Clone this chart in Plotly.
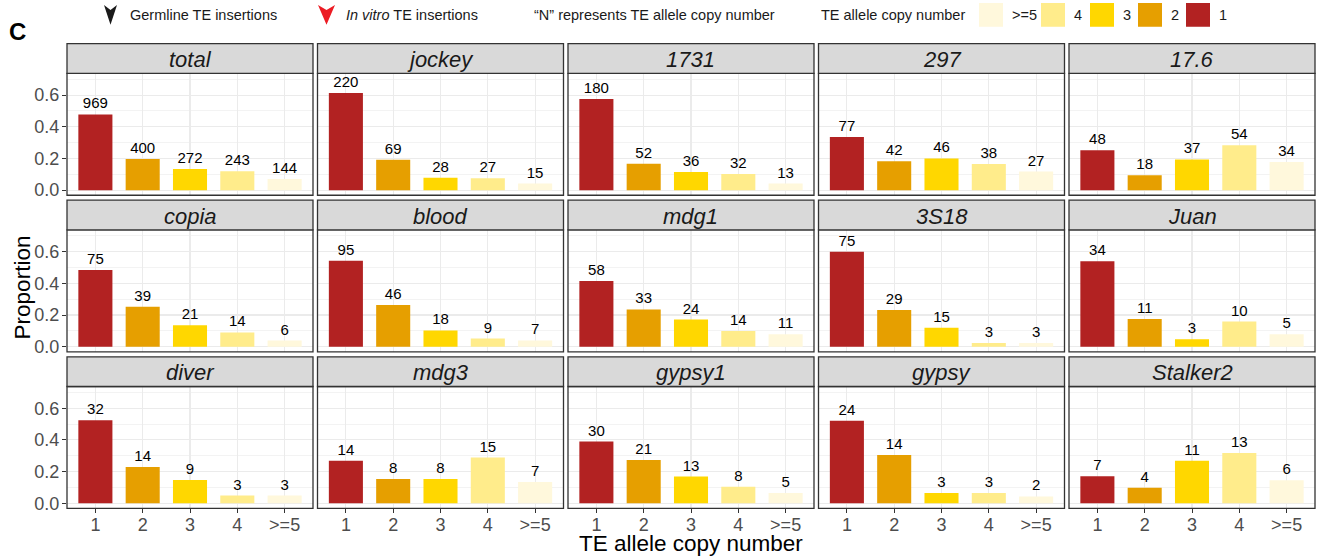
import plotly.graph_objects as go

# ---------------- data ----------------
categories = ["1", "2", "3", "4", ">=5"]
colors = ["#B22222", "#E69F00", "#FFD700", "#FFEC8B", "#FFF8DC"]

families = ["total", "jockey", "1731", "297", "17.6",
            "copia", "blood", "mdg1", "3S18", "Juan",
            "diver", "mdg3", "gypsy1", "gypsy", "Stalker2"]

counts_total = [969, 400, 272, 243, 144]
counts_jockey = [220, 69, 28, 27, 15]
counts_1731 = [180, 52, 36, 32, 13]
counts_297 = [77, 42, 46, 38, 27]
counts_17_6 = [48, 18, 37, 54, 34]
counts_copia = [75, 39, 21, 14, 6]
counts_blood = [95, 46, 18, 9, 7]
counts_mdg1 = [58, 33, 24, 14, 11]
counts_3S18 = [75, 29, 15, 3, 3]
counts_Juan = [34, 11, 3, 10, 5]
counts_diver = [32, 14, 9, 3, 3]
counts_mdg3 = [14, 8, 8, 15, 7]
counts_gypsy1 = [30, 21, 13, 8, 5]
counts_gypsy = [24, 14, 3, 3, 2]
counts_Stalker2 = [7, 4, 11, 13, 6]

all_counts = [counts_total, counts_jockey, counts_1731, counts_297, counts_17_6,
              counts_copia, counts_blood, counts_mdg1, counts_3S18, counts_Juan,
              counts_diver, counts_mdg3, counts_gypsy1, counts_gypsy, counts_Stalker2]

y_ticks = [0.0, 0.2, 0.4, 0.6]
y_tick_labels = ["0.0", "0.2", "0.4", "0.6"]

# ---------------- layout helpers ----------------
W, H = 1324, 559
FONT = "Liberation Sans, Arial, Helvetica, sans-serif"


def fx(x):
    return x / W


def fy(y):
    return 1 - y / H


col_left = [67 + i * 250.5 for i in range(5)]
panel_w = 246
strip_top = [44, 202, 360]
strip_h = 30
plot_h = 123

fig = go.Figure()
layout = dict(
    width=W, height=H, margin=dict(l=0, r=0, t=0, b=0),
    paper_bgcolor="white", plot_bgcolor="white", showlegend=False,
    font=dict(family=FONT), bargap=0.3,
)
shapes = []
annotations = []

for k, (fam, cnts) in enumerate(zip(families, all_counts)):
    r, c = divmod(k, 5)
    n = sum(cnts)
    props = [v / n for v in cnts]
    xa = "x" if k == 0 else f"x{k+1}"
    ya = "y" if k == 0 else f"y{k+1}"
    fig.add_trace(go.Bar(
        x=categories, y=props, xaxis=xa, yaxis=ya,
        marker=dict(color=colors, line=dict(width=0)),
        width=0.72,
        text=[str(v) for v in cnts], textposition="outside",
        textfont=dict(size=15, color="black", family=FONT),
        constraintext="none", cliponaxis=False, hoverinfo="skip",
    ))
    x0 = fx(col_left[c])
    x1 = fx(col_left[c] + panel_w)
    pt = strip_top[r] + strip_h
    pb = pt + plot_h
    xkey = "xaxis" if k == 0 else f"xaxis{k+1}"
    ykey = "yaxis" if k == 0 else f"yaxis{k+1}"
    bottom = (r == 2)
    left = (c == 0)
    layout[xkey] = dict(
        domain=[x0, x1], anchor=ya, type="category",
        categoryorder="array", categoryarray=categories,
        range=[-0.6, 4.6], showgrid=True, gridcolor="#EBEBEB", gridwidth=1.1,
        showline=False, zeroline=False,
        ticks="outside" if bottom else "", ticklen=4, tickcolor="#333333", tickwidth=1,
        showticklabels=bottom, ticklabelstandoff=-4,
        tickfont=dict(size=18, color="#4D4D4D", family=FONT),
        fixedrange=True,
    )
    layout[ykey] = dict(
        domain=[fy(pb), fy(pt)], anchor=xa,
        range=[-0.032, 0.737], showgrid=True, gridcolor="#EBEBEB", gridwidth=1.1,
        tickvals=y_ticks, ticktext=y_tick_labels,
        minor=dict(tickvals=[0.1, 0.3, 0.5, 0.7], showgrid=True,
                   gridcolor="#EBEBEB", gridwidth=0.6, ticks=""),
        showline=False, zeroline=False,
        ticks="outside" if left else "", ticklen=4, tickcolor="#333333", tickwidth=1,
        showticklabels=left, ticklabelstandoff=-1,
        tickfont=dict(size=18, color="#4D4D4D", family=FONT),
        fixedrange=True,
    )
    # panel border
    shapes.append(dict(type="rect", xref="paper", yref="paper",
                       x0=x0, x1=x1, y0=fy(pb), y1=fy(pt),
                       line=dict(color="#333333", width=1.3), fillcolor="rgba(0,0,0,0)",
                       layer="above"))
    # strip
    shapes.append(dict(type="rect", xref="paper", yref="paper",
                       x0=x0, x1=x1, y0=fy(pt), y1=fy(strip_top[r]),
                       line=dict(color="#333333", width=1.3), fillcolor="#D9D9D9",
                       layer="above"))
    annotations.append(dict(xref="paper", yref="paper", x=(x0 + x1) / 2,
                            y=fy(strip_top[r] + strip_h / 2 + 1),
                            text=f"<i>{fam}</i>", showarrow=False,
                            xanchor="center", yanchor="middle",
                            font=dict(size=22, color="#1A1A1A", family=FONT)))

# axis titles
annotations.append(dict(xref="paper", yref="paper", x=fx(691), y=fy(548),
                        text="TE allele copy number", showarrow=False,
                        xanchor="center", yanchor="middle",
                        font=dict(size=22.5, color="black", family=FONT)))
annotations.append(dict(xref="paper", yref="paper", x=fx(22), y=fy(290),
                        text="Proportion", showarrow=False, textangle=-90,
                        xanchor="center", yanchor="middle",
                        font=dict(size=22.5, color="black", family=FONT)))
# panel tag
annotations.append(dict(xref="paper", yref="paper", x=fx(7), y=fy(32),
                        text="<b>C</b>", showarrow=False,
                        xanchor="left", yanchor="middle",
                        font=dict(size=24, color="black", family=FONT)))


# top legend: arrowheads
def arrow_path(xl, xr, yt, yb, notch):
    xm = (xl + xr) / 2
    pts = [(xl, yt), (xm, yt + notch), (xr, yt), (xm, yb)]
    s = "M " + " L ".join(f"{fx(px):.5f},{fy(py):.5f}" for px, py in pts) + " Z"
    return s


shapes.append(dict(type="path", xref="paper", yref="paper",
                   path=arrow_path(104, 117, 5, 25, 5),
                   fillcolor="#1A1A1A", line=dict(width=0)))
shapes.append(dict(type="path", xref="paper", yref="paper",
                   path=arrow_path(318, 335, 5, 25, 5),
                   fillcolor="#EC1C24", line=dict(width=0)))

LEG_Y = fy(15)
leg_font = dict(size=14.5, color="#1A1A1A", family=FONT)
annotations.append(dict(xref="paper", yref="paper", x=fx(128), y=LEG_Y,
                        text="Germline TE insertions", showarrow=False,
                        xanchor="left", yanchor="middle", font=leg_font))
annotations.append(dict(xref="paper", yref="paper", x=fx(344), y=LEG_Y,
                        text="<i>In vitro</i> TE insertions", showarrow=False,
                        xanchor="left", yanchor="middle", font=leg_font))
annotations.append(dict(xref="paper", yref="paper", x=fx(532), y=LEG_Y,
                        text="\u201cN\u201d represents TE allele copy number", showarrow=False,
                        xanchor="left", yanchor="middle", font=leg_font))
annotations.append(dict(xref="paper", yref="paper", x=fx(819), y=LEG_Y,
                        text="TE allele copy number", showarrow=False,
                        xanchor="left", yanchor="middle", font=leg_font))

legend_order = [4, 3, 2, 1, 0]
sq_left = [979, 1041, 1090, 1138, 1186]
for idx, sx in zip(legend_order, sq_left):
    shapes.append(dict(type="rect", xref="paper", yref="paper",
                       x0=fx(sx), x1=fx(sx + 24), y0=fy(27), y1=fy(3),
                       fillcolor=colors[idx], line=dict(width=0)))
    annotations.append(dict(xref="paper", yref="paper", x=fx(sx + 31), y=LEG_Y,
                            text=categories[idx], showarrow=False,
                            xanchor="left", yanchor="middle", font=leg_font))

layout["shapes"] = shapes
layout["annotations"] = annotations
fig.update_layout(**layout)

fig.write_html(
    "out.html",
    config={"displayModeBar": False, "staticPlot": True},
    post_script="document.body.style.margin='0';document.body.style.padding='0';"
                "document.body.style.overflow='hidden';",
)
